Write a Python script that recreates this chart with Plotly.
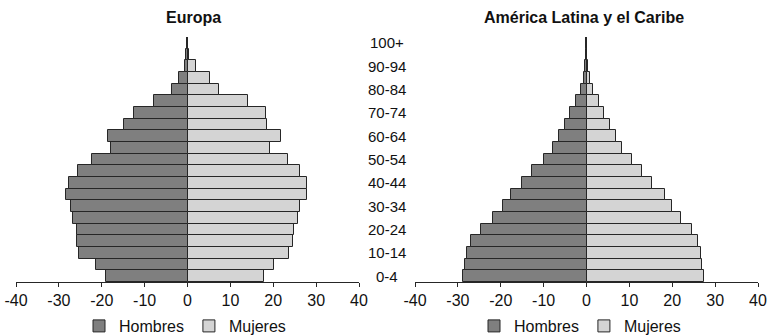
import plotly.graph_objects as go

# Age groups, youngest first
age_groups = ["0-4", "5-9", "10-14", "15-19", "20-24", "25-29", "30-34", "35-39",
              "40-44", "45-49", "50-54", "55-59", "60-64", "65-69", "70-74", "75-79",
              "80-84", "85-89", "90-94", "95-99", "100+"]
age_labels = ["0-4", "10-14", "20-24", "30-34", "40-44", "50-54",
              "60-64", "70-74", "80-84", "90-94", "100+"]

# Europa: share of population (%) by sex
europa_hombres = [-19.1, -21.4, -25.2, -25.7, -25.7, -26.6, -27.2, -28.3, -27.7, -25.5,
                  -22.3, -17.8, -18.5, -14.9, -12.5, -7.9, -3.7, -2.1, -0.7, -0.4, -0.1]
europa_mujeres = [17.8, 20.2, 23.7, 24.7, 24.8, 25.7, 26.2, 27.9, 27.9, 26.2,
                  23.5, 19.2, 21.7, 18.6, 18.2, 14.0, 7.3, 5.2, 2.0, 0.4, 0.1]

# America Latina y el Caribe
alc_hombres = [-28.7, -28.4, -27.9, -27.0, -24.7, -21.8, -19.4, -17.7, -15.1, -12.6,
               -10.0, -7.8, -6.4, -4.9, -3.8, -2.4, -1.4, -0.6, -0.3, -0.1, -0.05]
alc_mujeres = [27.3, 26.9, 26.6, 25.9, 24.5, 22.1, 19.9, 18.2, 15.3, 13.0,
               10.5, 8.3, 6.9, 5.4, 4.0, 2.9, 1.5, 0.8, 0.3, 0.1, 0.05]

x_ticks = [-40, -30, -20, -10, 0, 10, 20, 30, 40]
x_tick_text = ["-40", "-30", "-20", "-10", "0", "10", "20", "30", "40"]

titles = ["Europa", "América Latina y el Caribe"]

FONT = "Liberation Sans, Arial, sans-serif"
C_H = "#7f7f7f"
C_M = "#d4d4d4"
C_LINE = "#262626"

fig = go.Figure()

panels = [
    (europa_hombres, europa_mujeres, "x", "y", "legend"),
    (alc_hombres, alc_mujeres, "x2", "y2", "legend2"),
]
for hombres, mujeres, xa, ya, lg in panels:
    fig.add_trace(go.Bar(y=age_groups, x=hombres, orientation="h", name="Hombres",
                         marker=dict(color=C_H, line=dict(color=C_LINE, width=1)),
                         xaxis=xa, yaxis=ya, legend=lg))
    fig.add_trace(go.Bar(y=age_groups, x=mujeres, orientation="h", name="Mujeres",
                         marker=dict(color=C_M, line=dict(color=C_LINE, width=1)),
                         xaxis=xa, yaxis=ya, legend=lg))

W, H = 771, 336
xdom1 = [16 / W, 359 / W]
xdom2 = [415 / W, 758 / W]
ydom = [1 - 282 / H, 1 - 37 / H]

xaxis_common = dict(range=[-40, 40], tickvals=x_ticks, ticktext=x_tick_text,
                    showgrid=False, zeroline=False, showline=True, linecolor=C_LINE,
                    linewidth=1, ticks="outside", ticklen=4, tickcolor=C_LINE,
                    tickfont=dict(family=FONT, size=16, color="#111"), fixedrange=True,
                    automargin=False)
yaxis_common = dict(type="category", categoryorder="array", categoryarray=age_groups,
                    range=[-0.5, len(age_groups) - 0.5], showgrid=False, zeroline=False,
                    showline=False, showticklabels=False, ticks="", fixedrange=True,
                    automargin=False)

legend_common = dict(orientation="h", yanchor="middle", xanchor="center",
                     font=dict(family=FONT, size=16, color="#111"),
                     itemwidth=30, bgcolor="rgba(0,0,0,0)", traceorder="normal",
                     tracegroupgap=0, itemclick=False, itemdoubleclick=False)

annotations = [
    dict(text="<b>" + titles[0] + "</b>", x=193 / W,
         y=1 - 17 / H, xref="paper", yref="paper", showarrow=False,
         font=dict(family=FONT, size=16, color="#111"), xanchor="center", yanchor="middle"),
    dict(text="<b>" + titles[1] + "</b>", x=584 / W,
         y=1 - 17 / H, xref="paper", yref="paper", showarrow=False,
         font=dict(family=FONT, size=16, color="#111"), xanchor="center", yanchor="middle"),
]
for lab in age_labels:
    annotations.append(dict(text=lab, x=387 / W, y=lab, xref="paper", yref="y",
                            showarrow=False, xanchor="center", yanchor="middle",
                            font=dict(family=FONT, size=15, color="#111")))

fig.update_layout(
    width=W, height=H,
    margin=dict(l=0, r=0, t=0, b=0, autoexpand=False),
    paper_bgcolor="white", plot_bgcolor="white",
    barmode="relative", bargap=0,
    showlegend=True,
    xaxis=dict(domain=xdom1, anchor="y", **xaxis_common),
    xaxis2=dict(domain=xdom2, anchor="y2", **xaxis_common),
    yaxis=dict(domain=ydom, anchor="x", **yaxis_common),
    yaxis2=dict(domain=ydom, anchor="x2", **yaxis_common),
    legend=dict(x=185 / W, y=1 - 326 / H, **legend_common),
    legend2=dict(x=580 / W, y=1 - 326 / H, **legend_common),
    annotations=annotations,
)

fig.write_html("out.html", config={"displayModeBar": False})
